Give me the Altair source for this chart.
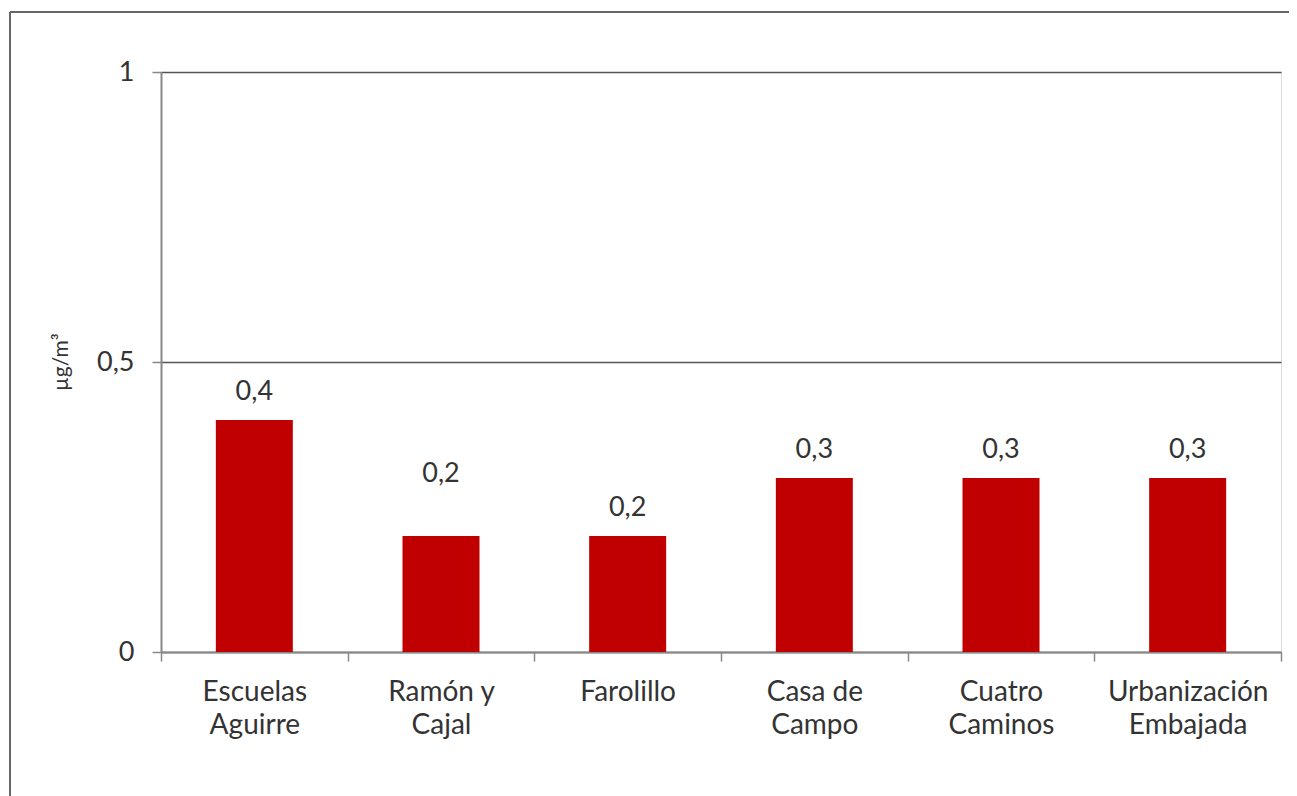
import altair as alt
import pandas as pd

categories = ["Escuelas\nAguirre", "Ramón y\nCajal", "Farolillo", "Casa de\nCampo", "Cuatro\nCaminos", "Urbanización\nEmbajada"]
values = [0.4, 0.2, 0.2, 0.3, 0.3, 0.3]
raised_label = ["Ramón y\nCajal"]
y_title = "µg/m³"

df = pd.DataFrame({"cat": categories, "val": values})
df["lbl"] = [f"{v:.1f}".replace(".", ",") for v in values]

FONT = "Lato"
TXT = "#333333"
FS = 27

xenc = alt.X("cat:N", sort=categories, title=None,
             scale=alt.Scale(paddingInner=0, paddingOuter=0),
             axis=alt.Axis(labelExpr="split(datum.label, '\\n')", labelAngle=0,
                           labelFont=FONT, labelFontSize=28, labelColor=TXT,
                           labelLineHeight=33, labelPadding=17, labelBaseline="top",
                           tickBand="extent", tickSize=9, tickColor="#888888", tickWidth=1.5,
                           domainColor="#888888", domainWidth=2, grid=False))
yenc = alt.Y("val:Q", title=None,
             scale=alt.Scale(domain=[0, 1], nice=False),
             axis=alt.Axis(values=[0, 0.5, 1], format="~g",
                           labelExpr="replace(datum.label, '.', ',')",
                           labelFont=FONT, labelFontSize=FS, labelColor=TXT, labelPadding=18,
                           tickSize=9, tickColor="#888888", tickWidth=1.5,
                           domainColor="#888888", domainWidth=2,
                           grid=True, gridColor="#555555", gridWidth=1.5))

base = alt.Chart(df)
bars = base.mark_bar(color="#C00000", size=77).encode(x=xenc, y=yenc)
labels = base.transform_filter(
    alt.FieldOneOfPredicate(field="cat", oneOf=raised_label)
).mark_text(font=FONT, fontSize=FS, color=TXT, baseline="bottom", dy=-48).encode(
    x=alt.X("cat:N", sort=categories), y="val:Q", text="lbl:N")
labels_other = base.transform_filter(
    ~alt.FieldOneOfPredicate(field="cat", oneOf=raised_label)
).mark_text(font=FONT, fontSize=FS, color=TXT, baseline="bottom", dy=-14).encode(
    x=alt.X("cat:N", sort=categories), y="val:Q", text="lbl:N")

title_df = pd.DataFrame({"t": [y_title]})
ytitle = alt.Chart(title_df).mark_text(font=FONT, fontSize=21, color=TXT, angle=270,
                                       align="center", baseline="middle").encode(
    x=alt.value(-99), y=alt.value(290), text="t:N")

frame_left = alt.Chart(df).mark_rule(color="#666666", strokeWidth=2).encode(
    x=alt.value(-151), y=alt.value(-60), y2=alt.value(900))
frame_top = alt.Chart(df).mark_rule(color="#666666", strokeWidth=2).encode(
    x=alt.value(-151), x2=alt.value(1300), y=alt.value(-60))

chart = alt.layer(bars, labels, labels_other, ytitle, frame_left, frame_top).properties(
    width=1120, height=580,
    padding={"left": 153, "top": 64, "right": 8, "bottom": 160},
    autosize=alt.AutoSizeParams(type="none"),
).configure_view(stroke="#aaaaaa", strokeWidth=2).configure(background="white")

chart.save("out.html", embed_options={"renderer": "svg", "actions": False})
